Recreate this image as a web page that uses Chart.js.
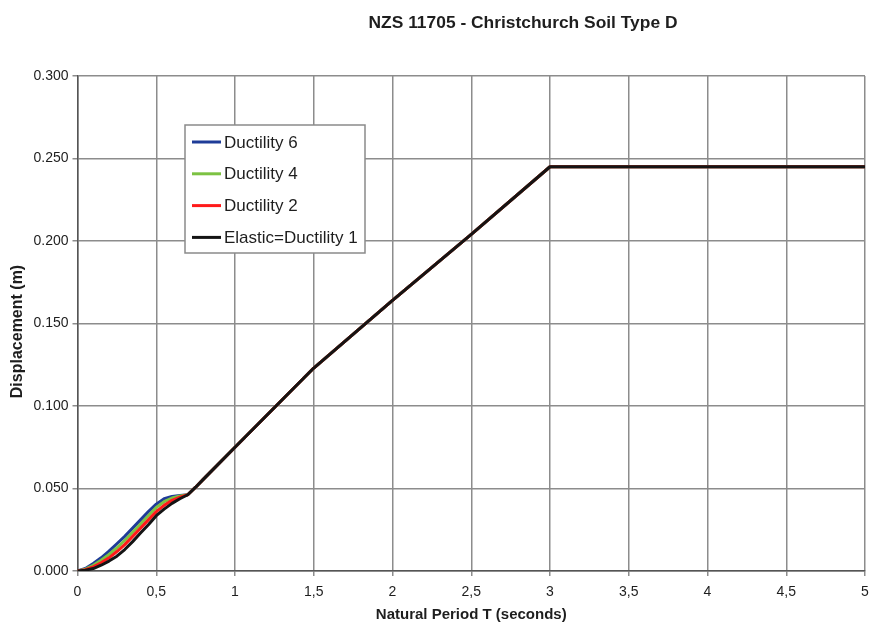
<!DOCTYPE html>
<html>
<head>
<meta charset="utf-8">
<script src="https://cdn.jsdelivr.net/npm/chart.js@4.4.1/dist/chart.umd.min.js"></script>
<style>
  html, body { margin: 0; padding: 0; background: #ffffff; }
  #wrap { width: 870px; height: 623px; position: relative; }
</style>
</head>
<body>
<div id="wrap"><canvas id="c" width="870" height="623"></canvas></div>
<script>
// ---- Data ----
const chartTitle = "NZS 11705 - Christchurch Soil Type D";
const xAxisTitle = "Natural Period T (seconds)";
const yAxisTitle = "Displacement (m)";

const periods    = [0, 0.05, 0.1, 0.15, 0.2, 0.25, 0.3, 0.35, 0.4, 0.45, 0.5, 0.55, 0.6, 0.65, 0.7, 0.75, 0.8, 1.0, 1.5, 2.0, 2.5, 3.0, 3.5, 4.0, 4.5, 5.0];
const ductility6 = [0, 0.0015, 0.0045, 0.008, 0.012, 0.0165, 0.021, 0.026, 0.031, 0.036, 0.0405, 0.0438, 0.0452, 0.0458, 0.0462, 0.0508, 0.0557, 0.075, 0.123, 0.164, 0.204, 0.245, 0.245, 0.245, 0.245, 0.245];
const ductility4 = [0, 0.0011, 0.0035, 0.0065, 0.010, 0.014, 0.0185, 0.0235, 0.0285, 0.0335, 0.0385, 0.0420, 0.0442, 0.0455, 0.0462, 0.0508, 0.0557, 0.075, 0.123, 0.164, 0.204, 0.245, 0.245, 0.245, 0.245, 0.245];
const ductility2 = [0, 0.0008, 0.0025, 0.005, 0.008, 0.0118, 0.016, 0.021, 0.026, 0.031, 0.036, 0.0398, 0.0428, 0.0448, 0.0462, 0.0508, 0.0557, 0.075, 0.123, 0.164, 0.204, 0.245, 0.245, 0.245, 0.245, 0.245];
const elastic    = [0, 0.0005, 0.0015, 0.0035, 0.006, 0.009, 0.013, 0.0178, 0.023, 0.028, 0.0335, 0.0375, 0.0410, 0.0438, 0.0462, 0.0508, 0.0557, 0.075, 0.123, 0.164, 0.204, 0.245, 0.245, 0.245, 0.245, 0.245];

const seriesLabels = ["Ductility 6", "Ductility 4", "Ductility 2", "Elastic=Ductility 1"];
const seriesColors = ["#1f3c98", "#7cc242", "#ff1a1a", "#141414"];
const seriesValues = [ductility6, ductility4, ductility2, elastic];

const xMin = 0, xMax = 5, xStep = 0.5;
const yMin = 0, yMax = 0.3, yStep = 0.05;

const FONT = "'Liberation Sans', Arial, sans-serif";
const TEXT = "#1e1e1e";

function toPoints(vals) {
  return periods.map((t, i) => ({ x: t, y: vals[i] }));
}

const datasets = seriesValues.map((vals, i) => ({
  label: seriesLabels[i],
  data: toPoints(vals),
  borderColor: seriesColors[i],
  backgroundColor: seriesColors[i],
  borderWidth: 3,
  pointRadius: 0,
  fill: false,
  tension: 0,
  borderJoinStyle: 'round',
  order: seriesValues.length - 1 - i
}));

// custom text + legend plugin
const decorPlugin = {
  id: 'decor',
  afterDraw(chart) {
    const ctx = chart.ctx;
    const area = chart.chartArea;
    ctx.save();
    // title
    ctx.fillStyle = TEXT;
    ctx.font = "bold 17.4px " + FONT;
    ctx.textAlign = 'center';
    ctx.textBaseline = 'middle';
    ctx.fillText(chartTitle, 523, 23);
    // x axis title
    ctx.font = "bold 15px " + FONT;
    ctx.fillText(xAxisTitle, (area.left + area.right) / 2, 615);
    // y axis title
    ctx.save();
    ctx.translate(18, (area.top + area.bottom) / 2 + 8);
    ctx.rotate(-Math.PI / 2);
    ctx.font = "bold 16px " + FONT;
    ctx.fillText(yAxisTitle, 0, 0);
    ctx.restore();

    // legend box
    const bx = 185, by = 125, bw = 180, bh = 128;
    ctx.fillStyle = '#ffffff';
    ctx.fillRect(bx, by, bw, bh);
    ctx.strokeStyle = '#8a8a8a';
    ctx.lineWidth = 1.5;
    ctx.strokeRect(bx, by, bw, bh);
    ctx.font = "17px " + FONT;
    ctx.textAlign = 'left';
    ctx.textBaseline = 'middle';
    chart.data.datasets.forEach((ds, i) => {
      const y = 142 + i * 31.8;
      ctx.strokeStyle = ds.borderColor;
      ctx.lineWidth = 3;
      ctx.beginPath();
      ctx.moveTo(192, y);
      ctx.lineTo(221, y);
      ctx.stroke();
      ctx.fillStyle = TEXT;
      ctx.fillText(ds.label, 224, y + 1);
    });
    ctx.restore();
  }
};

new Chart(document.getElementById('c'), {
  type: 'line',
  data: { datasets },
  options: {
    responsive: false,
    animation: false,
    events: [],
    layout: { padding: { top: 76, right: 5, left: 0, bottom: 0 } },
    plugins: {
      legend: { display: false },
      title: { display: false },
      tooltip: { enabled: false }
    },
    scales: {
      x: {
        type: 'linear',
        min: xMin, max: xMax,
        ticks: {
          stepSize: xStep,
          color: TEXT,
          font: { family: FONT, size: 14 },
          padding: 8,
          maxRotation: 0,
          autoSkip: false,
          callback: v => String(v).replace('.', ',')
        },
        grid: { color: '#8c8c8c', lineWidth: 1.5, tickLength: 5, drawTicks: true },
        border: { color: '#555555', width: 1.5 },
        afterFit(scale) { scale.height = 52; scale.paddingLeft = 0; scale.paddingRight = 0; }
      },
      y: {
        type: 'linear',
        min: yMin, max: yMax,
        ticks: {
          stepSize: yStep,
          color: TEXT,
          font: { family: FONT, size: 14 },
          padding: 4,
          callback: v => Number(v).toFixed(3)
        },
        grid: { color: '#8c8c8c', lineWidth: 1.5, tickLength: 5, drawTicks: true },
        border: { color: '#555555', width: 1.5 },
        afterFit(scale) { scale.width = 77.5; scale.paddingTop = 0; scale.paddingBottom = 0; }
      }
    }
  },
  plugins: [decorPlugin]
});
</script>
</body>
</html>
